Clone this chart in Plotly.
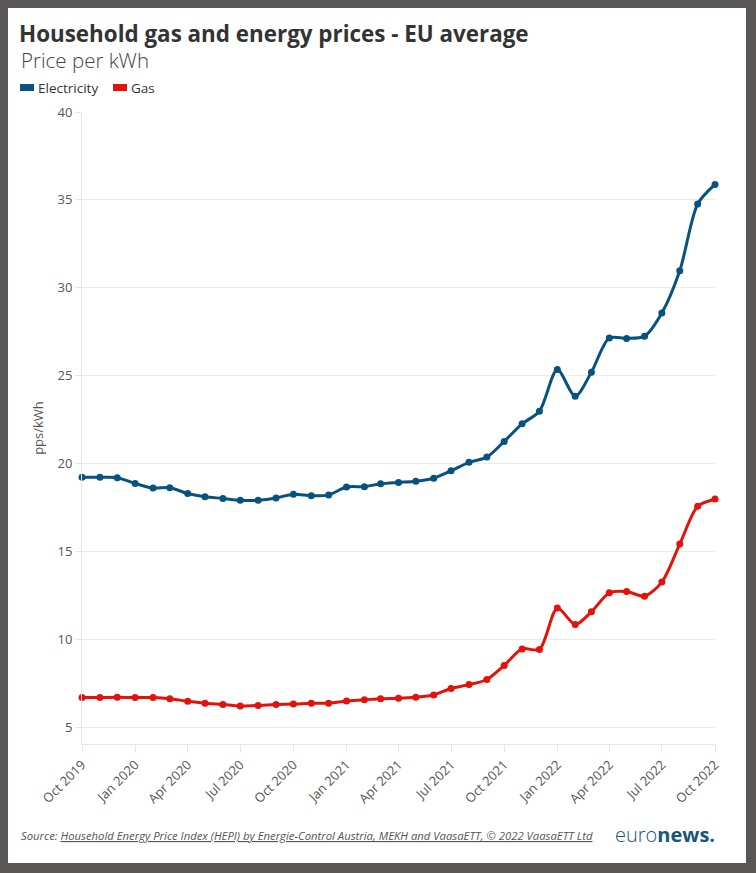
import pandas as pd
import plotly.graph_objects as go

# ---------------- data ----------------
months = pd.date_range("2019-10-01", periods=37, freq="MS")
electricity = [19.22, 19.22, 19.20, 18.87, 18.61, 18.63, 18.30, 18.11, 18.02, 17.91,
               17.91, 18.04, 18.26, 18.17, 18.22, 18.67, 18.69, 18.85, 18.93, 19.00,
               19.17, 19.59, 20.07, 20.37, 21.26, 22.26, 22.98, 25.35, 23.83, 25.20,
               27.14, 27.12, 27.25, 28.57, 30.97, 34.77, 35.88]
gas = [6.69, 6.69, 6.71, 6.69, 6.69, 6.63, 6.48, 6.37, 6.30, 6.21,
       6.24, 6.30, 6.32, 6.37, 6.37, 6.50, 6.56, 6.63, 6.65, 6.71,
       6.84, 7.21, 7.43, 7.72, 8.52, 9.46, 9.43, 11.78, 10.85, 11.57,
       12.65, 12.72, 12.46, 13.26, 15.42, 17.57, 17.98]
series_names = ["Electricity", "Gas"]
y_ticks = [5, 10, 15, 20, 25, 30, 35, 40]

# ---------------- style ----------------
W, H = 756, 873
L, R, T, B = 82, 715, 112, 744
COL_E = "#08527f"
COL_G = "#e3120b"
BORDER = "#5b5656"
FONT = "Open Sans"


def px_x(p):
    return (p - L) / (R - L)


def px_y(p):
    return (B - p) / (B - T)


fig = go.Figure()
for name, vals, col in [(series_names[0], electricity, COL_E), (series_names[1], gas, COL_G)]:
    fig.add_trace(go.Scatter(
        x=months, y=vals, name=name, mode="lines+markers",
        line=dict(color=col, width=3, shape="spline", smoothing=0.8),
        marker=dict(color=col, size=7),
        cliponaxis=False, showlegend=False,
    ))

shapes = [
    dict(type="rect", xref="paper", yref="paper",
         x0=px_x(8), x1=px_x(746), y0=px_y(863), y1=px_y(8),
         fillcolor="white", line=dict(width=0), layer="below"),
    # legend swatches
    dict(type="rect", xref="paper", yref="paper",
         x0=px_x(20), x1=px_x(34), y0=px_y(91), y1=px_y(84),
         fillcolor=COL_E, line=dict(width=0)),
    dict(type="rect", xref="paper", yref="paper",
         x0=px_x(113), x1=px_x(127), y0=px_y(91), y1=px_y(84),
         fillcolor=COL_G, line=dict(width=0)),
]

annotations = [
    dict(text="Price per kWh", xref="paper", yref="paper", x=px_x(19), y=px_y(60),
         xanchor="left", yanchor="middle", showarrow=False,
         font=dict(family=FONT, size=20.5, color="#444444", weight=300)),
    dict(text=series_names[0], xref="paper", yref="paper", x=px_x(36), y=px_y(88),
         xanchor="left", yanchor="middle", showarrow=False,
         font=dict(family=FONT, size=13.5, color="#333333")),
    dict(text=series_names[1], xref="paper", yref="paper", x=px_x(129), y=px_y(88),
         xanchor="left", yanchor="middle", showarrow=False,
         font=dict(family=FONT, size=13.5, color="#333333")),
    dict(text="<i>Source: <u>Household Energy Price Index (HEPI) by Energie-Control Austria, "
              "MEKH and VaasaETT, © 2022 VaasaETT Ltd</u></i>",
         xref="paper", yref="paper", x=px_x(19), y=px_y(836),
         xanchor="left", yanchor="middle", showarrow=False,
         font=dict(family=FONT, size=11.3, color="#555555")),
    dict(text="euro<b>news.</b>", xref="paper", yref="paper", x=px_x(717), y=px_y(834),
         xanchor="right", yanchor="middle", showarrow=False,
         font=dict(family=FONT, size=20, color="#16557f", weight=300)),
]

fig.update_layout(
    width=W, height=H,
    margin=dict(l=L, r=W - R, t=T, b=H - B, pad=0),
    paper_bgcolor=BORDER, plot_bgcolor="white",
    font=dict(family=FONT, color="#555555"),
    title=dict(text="<b>Household gas and energy prices - EU average</b>",
               xref="container", yref="container",
               x=19 / W, y=1 - 34 / H, xanchor="left", yanchor="middle",
               font=dict(family=FONT, size=22.4, color="#333333")),
    shapes=shapes, annotations=annotations,
    showlegend=False,
    xaxis=dict(
        type="date", range=[months[0], months[-1]],
        tick0=months[0], dtick="M3", tickformat="%b %Y", tickangle=-45,
        ticks="outside", ticklen=7, tickcolor="#e6e6e6", tickwidth=1,
        showgrid=False, showline=True, linecolor="#e6e6e6", linewidth=1,
        zeroline=False,
        tickfont=dict(family=FONT, size=13, color="#555555"),
    ),
    yaxis=dict(
        range=[4.05, 40], tickvals=y_ticks,
        ticks="outside", ticklen=6, tickcolor="#e6e6e6",
        showgrid=True, gridcolor="#ebebeb", gridwidth=1,
        showline=True, linecolor="#e6e6e6", linewidth=1, zeroline=False,
        tickfont=dict(family=FONT, size=13, color="#555555"),
        title=dict(text="pps/kWh", standoff=10,
                   font=dict(family=FONT, size=13, color="#555555")),
    ),
)

fig.write_html("out.html")
